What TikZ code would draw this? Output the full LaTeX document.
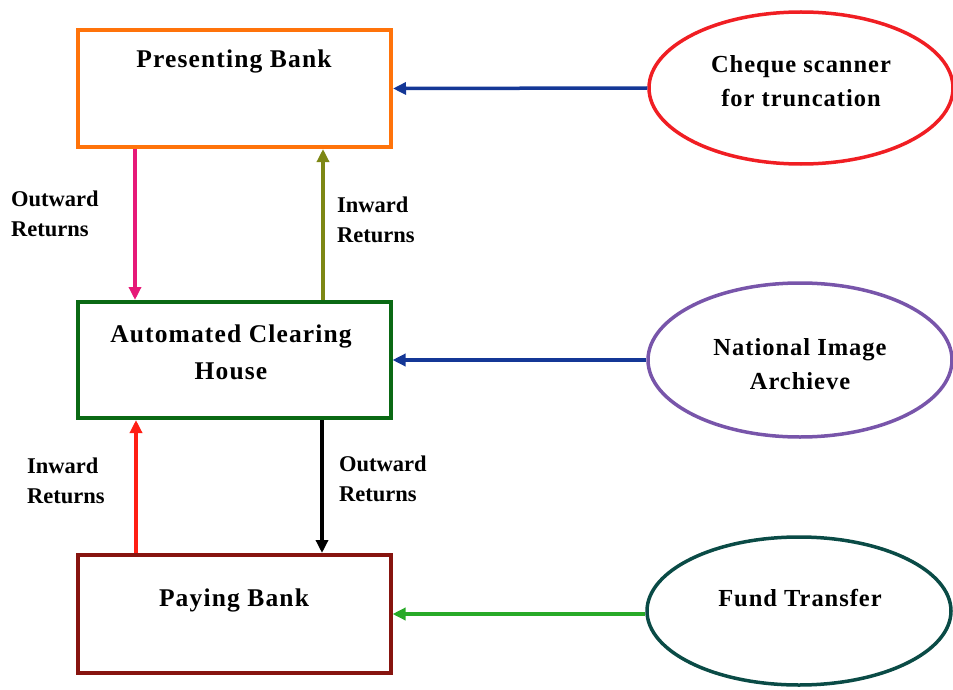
\documentclass[tikz,border=0pt]{standalone}
\usepackage{fontspec}
\setmainfont{Liberation Serif}
\usetikzlibrary{shapes.geometric,arrows.meta}
\definecolor{cOrange}{RGB}{255,115,10}
\definecolor{cGreen}{RGB}{10,105,20}
\definecolor{cBrown}{RGB}{135,20,15}
\definecolor{cRedE}{RGB}{240,30,35}
\definecolor{cPurple}{RGB}{120,85,170}
\definecolor{cTeal}{RGB}{10,75,70}
\definecolor{cBlue}{RGB}{20,55,150}
\definecolor{cLGreen}{RGB}{40,170,40}
\definecolor{cPink}{RGB}{230,25,120}
\definecolor{cOlive}{RGB}{125,135,20}
\definecolor{cRedA}{RGB}{255,30,20}
\tikzset{
  bankbox/.style={draw, line width=4pt, minimum width=313pt, inner sep=0pt},
  oval/.style={ellipse, draw, line width=3.5pt, minimum width=304pt, minimum height=152pt, inner sep=0pt},
  boxtext/.style={font=\fontsize{25.5}{37}\selectfont\bfseries\addfontfeature{LetterSpace=4.5}, align=center, text=black},
  ovaltext/.style={font=\fontsize{24.5}{34}\selectfont\bfseries\addfontfeature{LetterSpace=4}, align=center, text=black},
  flowlabel/.style={font=\fontsize{22.5}{30}\selectfont\bfseries, align=left, anchor=west, text=black, inner sep=0pt},
  flow/.style={line width=3.5pt, -{Triangle[length=13pt,width=12pt]}}
}
\begin{document}
\begin{tikzpicture}[x=1pt,y=-1pt]
\useasboundingbox (0,0) rectangle (953,690);
% boxes
\node[bankbox, draw=cOrange, minimum height=117pt] (pb) at (234.5,88.5) {};
\node[bankbox, draw=cGreen, minimum height=116pt] (ach) at (234,360) {};
\node[bankbox, draw=cBrown, minimum height=118pt] (payb) at (234,614) {};
\node[boxtext] (pbt) at (234,61) {Presenting Bank};
\node[boxtext] (acht) at (231,352) {Automated Clearing\\House};
\node[boxtext] (paybt) at (234,600) {Paying Bank};
% ellipses
\node[oval, draw=cRedE] (cs) at (801,88) {};
\node[ovaltext] (cst) at (801,81) {Cheque scanner\\for truncation};
\node[oval, draw=cPurple, minimum height=154pt] (nia) at (800,360) {};
\node[ovaltext] (niat) at (800,364) {National Image\\Archieve};
\node[oval, draw=cTeal, minimum height=148pt] (ft) at (799,611) {};
\node[ovaltext] (ftt) at (800,598) {Fund Transfer};
% horizontal arrows
\draw[flow, cBlue] (cs.west) -- (pb.east);
\draw[flow, cBlue] (nia.west) -- (ach.east);
\draw[flow, cLGreen] (payb.east -| ft.west) -- (payb.east);
% vertical arrows
\draw[flow, cPink] ([xshift=-99.5pt]pb.south) -- ([xshift=-99pt]ach.north);
\draw[flow, cOlive] ([xshift=89pt]ach.north) -- ([xshift=88.5pt]pb.south);
\draw[flow, cRedA] ([xshift=-98pt]payb.north) -- ([xshift=-98pt]ach.south);
\draw[flow, black] ([xshift=88pt]ach.south) -- ([xshift=88pt]payb.north);
% labels
\node[flowlabel] (l1) at (11,214) {Outward\\Returns};
\node[flowlabel] (l2) at (337,220) {Inward\\Returns};
\node[flowlabel] (l3) at (27,481) {Inward\\Returns};
\node[flowlabel] (l4) at (339,479) {Outward\\Returns};
\end{tikzpicture}
\end{document}
